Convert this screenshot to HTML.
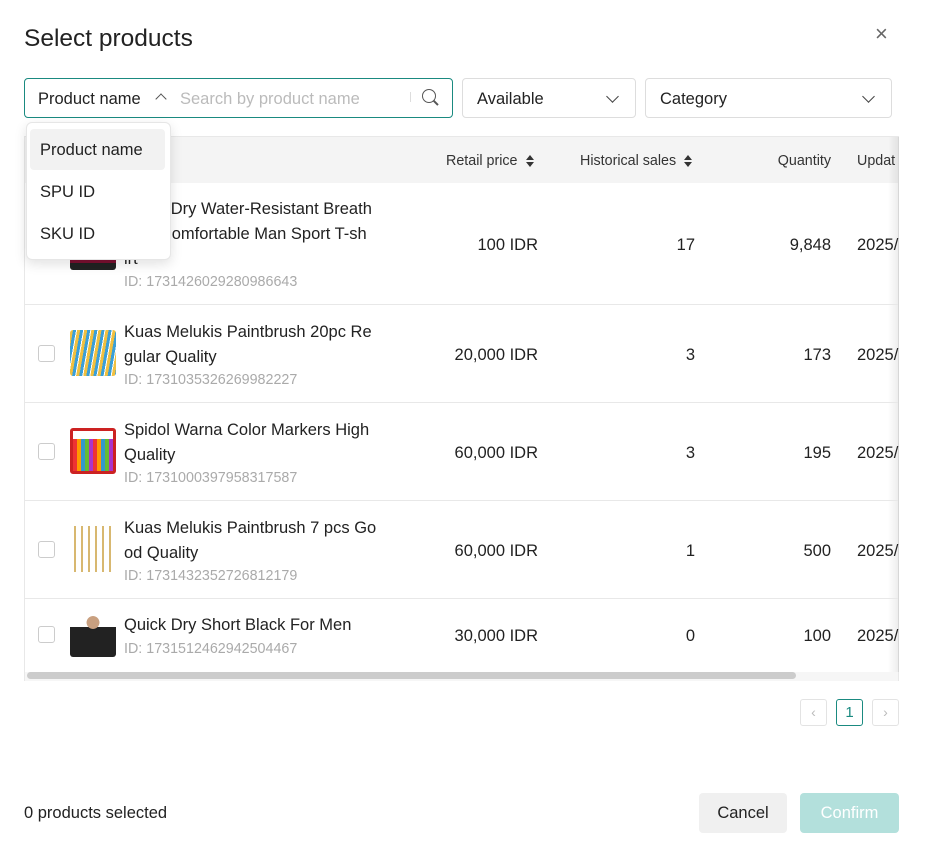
<!DOCTYPE html>
<html><head><style>
*{box-sizing:border-box;margin:0;padding:0}
body{width:925px;height:855px;background:#fff;font-family:"Liberation Sans",sans-serif;color:#222;position:relative;overflow:hidden}
.a{position:absolute;white-space:nowrap}
.t{margin-top:2px}
.r{text-align:right}
.cb{position:absolute;left:38px;width:17px;height:17px;border:1px solid #ccc;border-radius:3px;background:#fff}
.img{position:absolute;left:70px;width:46px;height:46px;border-radius:3px}
.nm{position:absolute;left:124px;font-size:16.5px;line-height:25px;color:#222;margin-top:1px}
.id{position:absolute;left:124px;font-size:14.3px;color:#aaa;margin-top:2px}
.row{position:absolute;left:25px;width:873px;border-top:1px solid #e8e8e8}
.sel{position:absolute;height:40px;border:1px solid #ddd;border-radius:4px;font-size:16.5px;padding:11px 14px}
.chev{position:absolute;right:18px;top:13px;width:9px;height:9px;border-right:1.5px solid #444;border-bottom:1.5px solid #444;transform:rotate(45deg)}
.sort{display:inline-block;vertical-align:middle;margin-left:8px;width:8px;height:14px;position:relative}
.sort:before{content:"";position:absolute;top:1px;left:0;border:4px solid transparent;border-bottom:5px solid #333;border-top:0}
.sort:after{content:"";position:absolute;bottom:1px;left:0;border:4px solid transparent;border-top:5px solid #333;border-bottom:0}
.v{font-size:16.5px;margin-top:2px}
</style></head><body>
<div class="a" style="left:24px;top:25px;font-size:24.5px;color:#222">Select products</div>
<div class="a" style="left:875px;top:21px;font-size:22px;color:#666">×</div>

<div class="sel" style="left:24px;top:78px;width:429px;border-color:#1a8a80"></div>
<div class="a v" style="left:38px;top:88px">Product name</div>
<div class="a" style="left:157px;top:95px;width:8px;height:8px;border-left:1.5px solid #555;border-top:1.5px solid #555;transform:rotate(45deg)"></div>
<div class="a v" style="left:180px;top:88px;color:#bbb">Search by product name</div>
<div class="a" style="left:410px;top:92px;width:1px;height:10px;background:#ddd"></div>
<div class="a" style="left:422px;top:89px;width:14px;height:14px;border:1.6px solid #555;border-radius:50%"></div>
<div class="a" style="left:433px;top:102px;width:6px;height:1.6px;background:#555;transform:rotate(45deg)"></div>

<div class="sel" style="left:462px;top:78px;width:174px">Available<div class="chev"></div></div>
<div class="sel" style="left:645px;top:78px;width:247px">Category<div class="chev"></div></div>

<!-- table -->
<div class="a" style="left:24px;top:136px;width:875px;height:545px;border:1px solid #e8e8e8;border-bottom:none"></div>
<div class="a" style="left:25px;top:137px;width:873px;height:46px;background:#f4f4f4"></div>
<div class="a" style="left:888px;top:137px;width:11px;height:535px;background:linear-gradient(to right,rgba(0,0,0,0),rgba(0,0,0,.08))"></div>
<div class="a t" style="left:446px;top:151px;font-size:14.3px;color:#333">Retail price<span class="sort"></span></div>
<div class="a t" style="left:580px;top:151px;font-size:14.3px;color:#333">Historical sales<span class="sort"></span></div>
<div class="a r t" style="left:730px;width:101px;top:151px;font-size:14.3px;color:#333">Quantity</div>
<div class="a t" style="left:857px;top:151px;font-size:14.3px;color:#333">Updat</div>

<!-- row1 -->
<div class="img" style="top:224px;background:linear-gradient(#f4d8c8 0 25%,#7a1030 25% 85%,#222 85%)"></div>
<div class="nm" style="top:196px">Quick Dry Water-Resistant Breath<br>able Comfortable Man Sport T-sh<br>irt</div>
<div class="id" style="top:272px">ID: 1731426029280986643</div>
<div class="a r v" style="left:430px;width:108px;top:234px">100 IDR</div>
<div class="a r v" style="left:600px;width:95px;top:234px">17</div>
<div class="a r v" style="left:730px;width:101px;top:234px">9,848</div>
<div class="a v" style="left:857px;top:234px">2025/</div>

<div class="row" style="top:304px"></div>
<div class="cb" style="top:345px"></div>
<div class="img" style="top:330px;background:repeating-linear-gradient(100deg,#f0c040 0 3px,#3a9fd8 3px 6px,#fff 6px 7px)"></div>
<div class="nm" style="top:319px">Kuas Melukis Paintbrush 20pc Re<br>gular Quality</div>
<div class="id" style="top:370px">ID: 1731035326269982227</div>
<div class="a r v" style="left:430px;width:108px;top:344px">20,000 IDR</div>
<div class="a r v" style="left:600px;width:95px;top:344px">3</div>
<div class="a r v" style="left:730px;width:101px;top:344px">173</div>
<div class="a v" style="left:857px;top:344px">2025/</div>

<div class="row" style="top:402px"></div>
<div class="cb" style="top:443px"></div>
<div class="img" style="top:428px;background:linear-gradient(#fff 0 20%,transparent 20%),repeating-linear-gradient(90deg,#e33 0 4px,#f90 4px 8px,#39c 8px 12px,#6b3 12px 16px,#a3c 16px 20px);border:3px solid #c22"></div>
<div class="nm" style="top:417px">Spidol Warna Color Markers High<br>Quality</div>
<div class="id" style="top:468px">ID: 1731000397958317587</div>
<div class="a r v" style="left:430px;width:108px;top:442px">60,000 IDR</div>
<div class="a r v" style="left:600px;width:95px;top:442px">3</div>
<div class="a r v" style="left:730px;width:101px;top:442px">195</div>
<div class="a v" style="left:857px;top:442px">2025/</div>

<div class="row" style="top:500px"></div>
<div class="cb" style="top:541px"></div>
<div class="img" style="top:526px;background:repeating-linear-gradient(90deg,#fff 0 4px,#d8b870 4px 6px,#fff 6px 7px)"></div>
<div class="nm" style="top:515px">Kuas Melukis Paintbrush 7 pcs Go<br>od Quality</div>
<div class="id" style="top:566px">ID: 1731432352726812179</div>
<div class="a r v" style="left:430px;width:108px;top:540px">60,000 IDR</div>
<div class="a r v" style="left:600px;width:95px;top:540px">1</div>
<div class="a r v" style="left:730px;width:101px;top:540px">500</div>
<div class="a v" style="left:857px;top:540px">2025/</div>

<div class="row" style="top:598px"></div>
<div class="cb" style="top:626px"></div>
<div class="img" style="top:611px;background:radial-gradient(circle at 50% 25%,#c9a080 0 15%,transparent 16%),linear-gradient(#fff 0 35%,#222 35%)"></div>
<div class="nm" style="top:612px">Quick Dry Short Black For Men</div>
<div class="id" style="top:639px">ID: 1731512462942504467</div>
<div class="a r v" style="left:430px;width:108px;top:625px">30,000 IDR</div>
<div class="a r v" style="left:600px;width:95px;top:625px">0</div>
<div class="a r v" style="left:730px;width:101px;top:625px">100</div>
<div class="a v" style="left:857px;top:625px">2025/</div>

<div class="a" style="left:25px;top:672px;width:873px;height:9px;background:#f6f6f6"></div>
<div class="a" style="left:27px;top:672px;width:769px;height:7px;background:#ccc;border-radius:4px"></div>

<!-- dropdown -->
<div class="a" style="left:26px;top:122px;width:145px;height:138px;background:#fff;border:1px solid #e6e6e6;border-radius:6px;box-shadow:0 4px 12px rgba(0,0,0,.12)"></div>
<div class="a" style="left:30px;top:129px;width:135px;height:41px;background:#f2f2f2;border-radius:4px"></div>
<div class="a v" style="left:40px;top:139px">Product name</div>
<div class="a v" style="left:40px;top:181px">SPU ID</div>
<div class="a v" style="left:40px;top:223px">SKU ID</div>

<!-- pagination -->
<div class="a" style="left:800px;top:699px;width:27px;height:27px;border:1px solid #e3e3e3;border-radius:3px;color:#bbb;font-size:14px;text-align:center;line-height:25px">‹</div>
<div class="a" style="left:836px;top:699px;width:27px;height:27px;border:1px solid #1a8a80;border-radius:3px;color:#1a8a80;font-size:15px;text-align:center;line-height:25px">1</div>
<div class="a" style="left:872px;top:699px;width:27px;height:27px;border:1px solid #e3e3e3;border-radius:3px;color:#bbb;font-size:14px;text-align:center;line-height:25px">›</div>

<div class="a v" style="left:24px;top:802px">0 products selected</div>
<div class="a" style="left:699px;top:793px;width:88px;height:40px;background:#f0f0f0;border-radius:4px;font-size:16.5px;text-align:center;line-height:40px">Cancel</div>
<div class="a" style="left:800px;top:793px;width:99px;height:40px;background:#b3e0dc;border-radius:4px;font-size:16.5px;color:#fff;text-align:center;line-height:40px">Confirm</div>
</body></html>
